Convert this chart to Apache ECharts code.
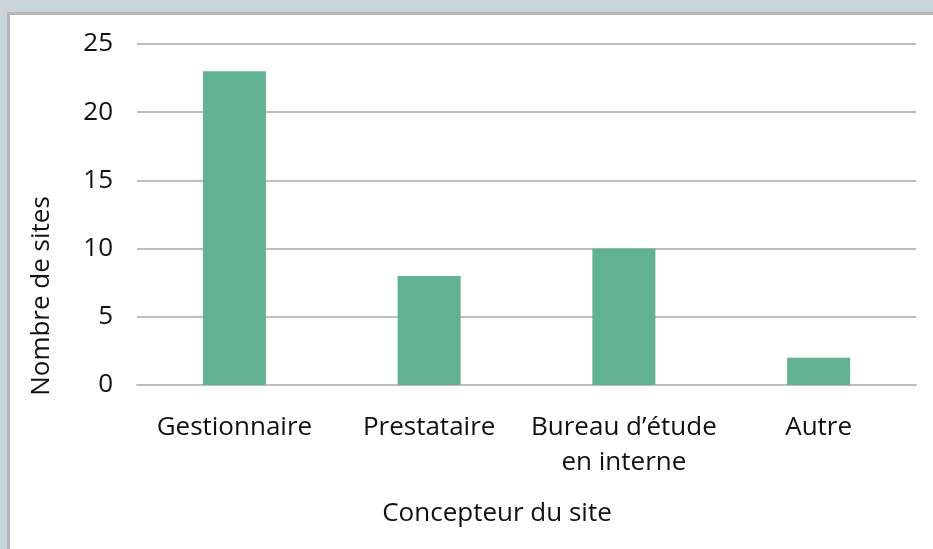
<!DOCTYPE html>
<html>
<head>
<meta charset="utf-8">
<script src="https://cdn.jsdelivr.net/npm/echarts@6/dist/echarts.min.js"></script>
<style>
  html, body { margin: 0; padding: 0; }
  body { width: 933px; height: 549px; background: #c9d4dc; position: relative; overflow: hidden; }
  .panel {
    position: absolute; left: 7px; top: 12px; width: 960px; height: 580px;
    background: #fff; border: 3px solid #b5b5b5;
  }
  #chart { position: absolute; left: 0; top: 0; width: 933px; height: 549px; }
</style>
</head>
<body>
<div class="panel"></div>
<div id="chart"></div>
<script>
const categories = ['Gestionnaire', 'Prestataire', 'Bureau d’étude\nen interne', 'Autre']
const siteCounts = [23, 8, 10, 2]
const yAxisTitle = 'Nombre de sites'
const xAxisTitle = 'Concepteur du site'

const FONT = '"Open Sans", sans-serif'
const BAR = '#61b193'
const GRID = '#bdbdbd'

const chart = echarts.init(document.getElementById('chart'), null, { renderer: 'canvas' })

chart.setOption({
  backgroundColor: 'transparent',
  animation: false,
  grid: { left: 137, right: 17, top: 44, bottom: 164 },
  xAxis: {
    type: 'category',
    data: categories,
    axisLine: { lineStyle: { color: GRID, width: 2 } },
    axisTick: { show: false },
    axisLabel: {
      color: '#111',
      fontFamily: FONT,
      fontSize: 26,
      lineHeight: 35,
      margin: 25,
      interval: 0
    }
  },
  yAxis: {
    type: 'value',
    min: 0,
    max: 25,
    interval: 5,
    axisLine: { show: false },
    axisTick: { show: false },
    axisLabel: {
      color: '#111',
      fontFamily: FONT,
      fontSize: 26,
      margin: 24
    },
    splitLine: { lineStyle: { color: GRID, width: 2 } }
  },
  series: [
    {
      type: 'bar',
      data: siteCounts,
      barWidth: 63,
      itemStyle: { color: BAR }
    }
  ],
  graphic: [
    {
      type: 'text',
      x: 42,
      y: 296,
      rotation: Math.PI / 2,
      style: {
        text: yAxisTitle,
        fill: '#111',
        font: '26px "Open Sans", sans-serif',
        align: 'center',
        verticalAlign: 'middle'
      }
    },
    {
      type: 'text',
      x: 497,
      y: 514,
      style: {
        text: xAxisTitle,
        fill: '#111',
        font: '26px "Open Sans", sans-serif',
        align: 'center',
        verticalAlign: 'middle'
      }
    }
  ]
})
</script>
</body>
</html>
